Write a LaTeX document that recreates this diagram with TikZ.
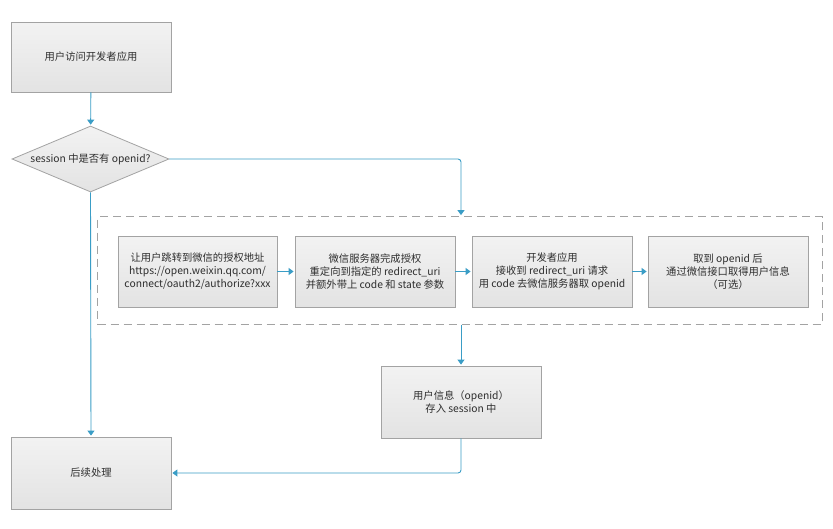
\documentclass[tikz,border=0pt]{standalone}
\usepackage{fontspec}
\setmainfont{Noto Sans CJK SC}
\usetikzlibrary{shapes.geometric,arrows.meta}
\definecolor{flow}{HTML}{3A9DC6}
\definecolor{boxline}{HTML}{A3A3A3}
\definecolor{txt}{HTML}{2E2E2E}
\tikzset{
  box/.style={draw=boxline, line width=0.8pt, top color=white!95!black, bottom color=white!89!black,
    minimum width=160pt, minimum height=71pt, inner sep=2pt, align=center,
    font=\fontsize{10.3}{13}\selectfont, text=txt},
  dec/.style={diamond, draw=boxline, line width=0.8pt, top color=white!95!black, bottom color=white!89!black,
    aspect=2.38, minimum width=157pt, minimum height=66pt, inner sep=0pt,
    font=\fontsize{10.3}{13}\selectfont, text=txt},
  grp/.style={draw=boxline, dash pattern=on 8pt off 5pt, line width=0.8pt},
  flowarrow/.style={draw=flow, line width=0.9pt, -{Triangle[width=7pt,length=5pt]},
    rounded corners=3pt, shorten >=1pt}
}
\begin{document}
\begin{tikzpicture}[x=1pt,y=-1pt]
\useasboundingbox[fill=white] (0,0) rectangle (833,528);
\node[box, minimum height=70pt] (b1) at (91,57) {用户访问开发者应用};
\node[dec] (dia) at (90.5,159) {session 中是否有 openid?};
\node[grp, minimum width=724.5pt, minimum height=108pt] (grp) at (459.75,270.5) {};
\node[box, minimum width=159pt] (a) at (197.5,271.5) {让用户跳转到微信的授权地址\\https://open.weixin.qq.com/\\connect/oauth2/authorize?xxx};
\node[box] (b) at (375,271.5) {微信服务器完成授权\\重定向到指定的 redirect\_uri\\并额外带上 code 和 state 参数};
\node[box] (c) at (552,271.5) {开发者应用\\接收到 redirect\_uri 请求\\用 code 去微信服务器取 openid};
\node[box] (d) at (728,271.5) {取到 openid 后\\通过微信接口取得用户信息\\（可选）};
\node[box, minimum height=72pt] (u) at (461,402) {用户信息（openid）\\存入 session 中};
\node[box, minimum height=72pt] (fin) at (91,473) {后续处理};
\draw[flowarrow] (b1) -- (dia);
\draw[flowarrow] (dia.east) -| (grp.north -| u.north);
\draw[flowarrow] (dia.south) -- (fin.north);
\draw[flowarrow] (a) -- (b);
\draw[flowarrow] (b) -- (c);
\draw[flowarrow] (c) -- (d);
\draw[flowarrow] (grp.south -| u.north) -- (u.north);
\draw[flowarrow] (u.south) |- (fin.east);
\end{tikzpicture}
\end{document}
